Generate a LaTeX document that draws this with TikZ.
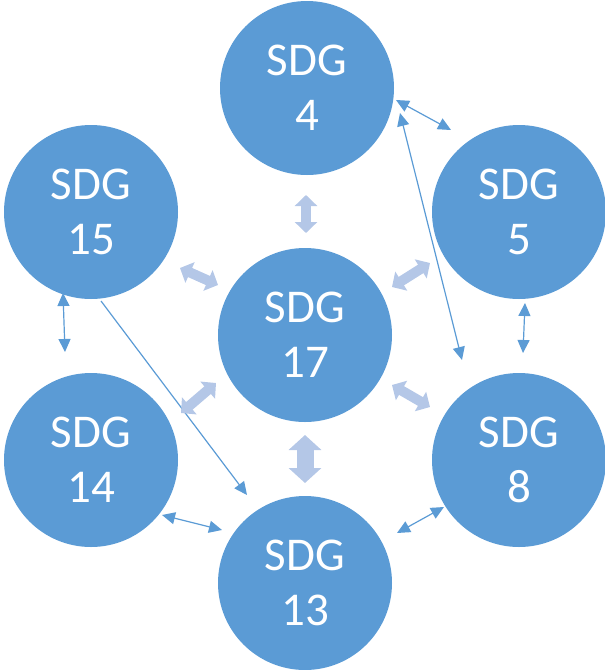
\documentclass[tikz,border=0pt]{standalone}
\usepackage{fontspec}
\setmainfont{Carlito}
\usetikzlibrary{arrows.meta,calc,backgrounds}
\definecolor{sdgblue}{RGB}{91,155,213}
\definecolor{sdglight}{RGB}{180,199,231}
\begin{document}
\begin{tikzpicture}[x=1pt,y=-1pt,
  sdg/.style={circle,fill=sdgblue,minimum size=174pt,inner sep=0pt,align=center,
    text=white,font=\fontsize{47}{55}\selectfont},
  thin/.style={draw=sdgblue,line width=1.2pt,
    {Triangle[width=12pt,length=13pt]}-{Triangle[width=12pt,length=13pt]}},
  thinone/.style={draw=sdgblue,line width=1.2pt,-{Triangle[width=12pt,length=13pt]}},
  block/.style={draw=sdglight,line width=10pt,
    {Triangle[width=22pt,length=11pt]}-{Triangle[width=22pt,length=11pt]}},
  bigblock/.style={draw=sdglight,line width=17pt,
    {Triangle[width=32pt,length=15pt]}-{Triangle[width=32pt,length=15pt]}}]
\useasboundingbox (0,0) rectangle (605,670);
\node[sdg] (c4) at (307,88) {SDG\\4};
\node[sdg] (c5) at (519,212) {SDG\\5};
\node[sdg] (c15) at (91,212) {SDG\\15};
\node[sdg] (c17) at (305,335) {SDG\\17};
\node[sdg] (c14) at (91,460) {SDG\\14};
\node[sdg] (c8) at (519,460) {SDG\\8};
\node[sdg] (c13) at (305,583) {SDG\\13};
\begin{pgfonlayer}{background}
% thin connectors
\draw[thin] ($(c4)+(89,12)$) -- ($(c5)+(-68,-82)$);
\draw[thin] ($(c4)+(93,25)$) -- ($(c8)+(-57,-100)$);
\draw[thin] ($(c5)+(6,91)$) -- ($(c8)+(4,-107)$);
\draw[thin] ($(c15)+(-28,81)$) -- ($(c14)+(-26,-108)$);
\draw[thinone] ($(c15)+(10,89)$) -- ($(c13)+(-58,-88)$);
\draw[thin] ($(c14)+(71,55)$) -- ($(c13)+(-83,-53)$);
\draw[thin] ($(c8)+(-122,73)$) -- ($(c13)+(139,-76)$);
% block connectors
\draw[block] ($(c4)+(-1,107)$) -- ($(c17)+(1,-102)$);
\draw[bigblock] ($(c17)+(0,100)$) -- ($(c13)+(0,-100)$);
\draw[block] ($(c15)+(89,56)$) -- ($(c17)+(-87,-50)$);
\draw[block] ($(c5)+(-89,51)$) -- ($(c17)+(87,-48)$);
\draw[block] ($(c14)+(90,-47)$) -- ($(c17)+(-89,48)$);
\draw[block] ($(c8)+(-89,-53)$) -- ($(c17)+(87,50)$);
\end{pgfonlayer}
\end{tikzpicture}
\end{document}
